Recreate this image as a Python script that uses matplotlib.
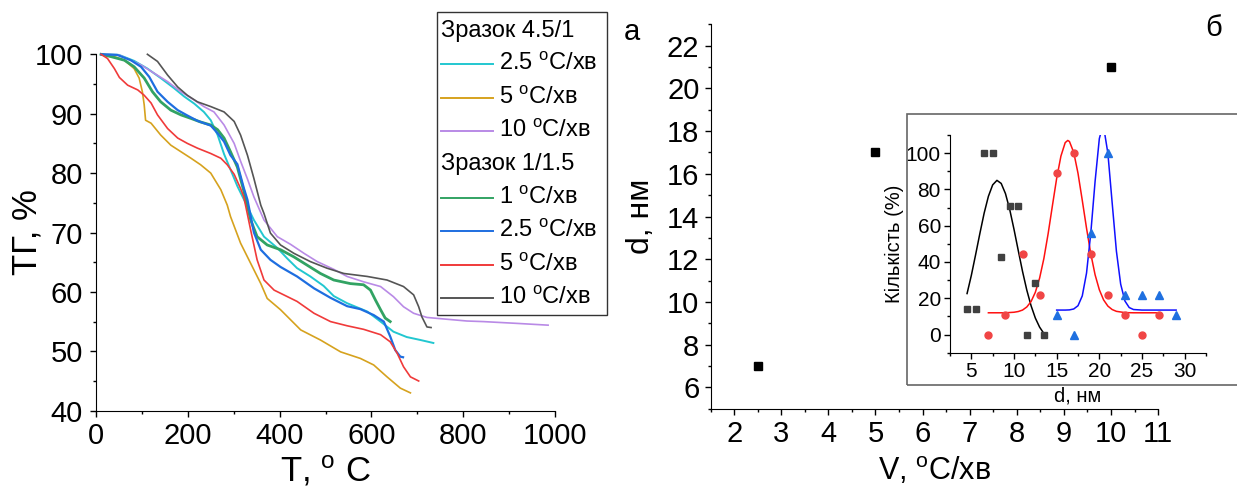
import matplotlib
matplotlib.use("Agg")
import matplotlib.pyplot as plt
from matplotlib.lines import Line2D
from matplotlib.patches import Rectangle
from matplotlib.ticker import MultipleLocator

plt.rcParams['font.family'] = ['Liberation Sans', 'DejaVu Sans']
plt.rcParams['mathtext.fontset'] = 'custom'
plt.rcParams['mathtext.rm'] = 'Liberation Sans'
plt.rcParams['mathtext.it'] = 'Liberation Sans:italic'

# --- TG curves (T, degC ; TG, %) ---
t_cyan = [11, 50, 83, 112, 141, 170, 192, 214, 235, 250, 265, 279, 293, 308, 322, 344, 366, 395, 417, 438, 467, 496, 518, 547, 591, 620, 648, 677, 707, 735]
tg_cyan = [100, 99.9, 98.9, 97.6, 96.0, 94.3, 92.9, 91.7, 90.3, 88.9, 86.4, 83.2, 80.6, 77.8, 75.6, 72.1, 69.3, 67.4, 65.6, 64.0, 62.6, 61.0, 59.3, 58.1, 56.7, 55.0, 53.3, 52.4, 51.9, 51.4]

t_gold = [11, 40, 62, 83, 94, 101, 105, 108, 120, 141, 163, 185, 207, 228, 250, 272, 286, 293, 315, 337, 359, 373, 402, 424, 446, 489, 533, 576, 605, 634, 663, 685]
tg_gold = [100, 99.6, 99.0, 97.6, 96.0, 93.7, 91.5, 88.9, 88.4, 86.4, 84.7, 83.6, 82.5, 81.4, 80.0, 77.2, 74.6, 72.7, 68.2, 64.8, 61.4, 58.9, 57.0, 55.3, 53.6, 51.9, 49.9, 48.8, 47.7, 45.7, 43.8, 43.0]

t_purple = [11, 50, 98, 127, 156, 185, 214, 235, 257, 279, 301, 315, 330, 344, 366, 395, 424, 453, 482, 518, 547, 583, 620, 648, 670, 692, 721, 764, 808, 844, 917, 985]
tg_purple = [100, 99.9, 98.2, 96.8, 95.4, 93.7, 92.3, 91.2, 90.3, 88.1, 85.0, 82.0, 79.0, 76.0, 72.1, 69.3, 68.0, 66.5, 65.1, 63.8, 62.6, 61.7, 60.9, 59.2, 57.5, 56.4, 55.7, 55.4, 55.1, 55.0, 54.7, 54.4]

t_green = [11, 33, 62, 83, 105, 123, 141, 163, 185, 207, 228, 250, 265, 279, 293, 308, 322, 337, 351, 373, 402, 431, 460, 489, 518, 554, 583, 598, 609, 620, 630, 641]
tg_green = [100, 99.6, 99.0, 97.9, 96.0, 93.7, 92.0, 90.6, 89.8, 89.2, 88.6, 88.1, 87.3, 85.9, 83.6, 81.0, 77.0, 72.1, 69.3, 67.9, 67.1, 65.9, 64.5, 63.1, 62.0, 61.4, 61.2, 60.3, 58.6, 57.0, 55.6, 55.0]

t_blue = [11, 46, 76, 98, 116, 134, 156, 178, 199, 221, 250, 265, 279, 293, 308, 322, 330, 344, 359, 380, 402, 438, 475, 511, 547, 576, 605, 627, 641, 652, 663, 669]
tg_blue = [100, 99.9, 99.0, 97.9, 96.2, 93.7, 92.0, 90.6, 89.7, 88.8, 88.0, 86.7, 85.3, 83.0, 81.5, 77.5, 75.5, 70.0, 67.1, 65.4, 64.2, 62.6, 60.6, 59.0, 57.6, 57.1, 56.1, 55.0, 52.5, 50.2, 49.1, 49.0]

t_red = [11, 25, 40, 51, 69, 91, 105, 120, 134, 156, 178, 199, 221, 250, 272, 286, 301, 315, 322, 337, 351, 366, 388, 417, 438, 475, 511, 547, 583, 620, 641, 656, 670, 685, 703]
tg_red = [100, 99.3, 97.6, 96.1, 94.8, 94.0, 93.1, 91.8, 89.8, 87.5, 85.9, 85.0, 84.2, 83.3, 82.5, 81.4, 79.8, 77.4, 76.0, 70.4, 65.4, 62.0, 60.3, 59.2, 58.4, 56.4, 55.0, 54.3, 53.7, 52.8, 51.6, 49.7, 47.4, 45.7, 45.0]

t_black = [112, 134, 156, 178, 199, 221, 250, 279, 301, 315, 330, 344, 359, 366, 380, 402, 431, 467, 503, 540, 591, 634, 670, 692, 703, 710, 721, 730]
tg_black = [100, 98.8, 96.5, 94.5, 93.1, 92.0, 91.2, 90.3, 88.7, 86.4, 83.0, 79.1, 74.6, 73.2, 69.9, 67.9, 66.5, 65.1, 64.0, 63.1, 62.6, 62.0, 60.9, 59.5, 57.5, 55.8, 54.1, 54.0]

# --- particle size vs heating rate ---
rate = [2.5, 5, 10]
size_nm = [7, 17, 21]

# --- inset: size distributions ---
d_sq = [4.5, 5.5, 6.5, 7.5, 8.5, 9.5, 10.5, 11.5, 12.5, 13.5]
n_sq = [14, 14, 100, 100, 43, 71, 71, 0, 28.5, 0]
d_ci = [7, 9, 11, 13, 15, 17, 19, 21, 23, 25, 27]
n_ci = [0, 11, 44.5, 22, 89, 100, 44.5, 22, 11, 0, 11]
d_tr = [15, 17, 19, 21, 23, 25, 27, 29]
n_tr = [11, 0, 56, 100, 22, 22, 22, 11]

fit_bk_x = [4.5, 5, 5.5, 6, 6.5, 7, 7.5, 8, 8.5, 9, 9.5, 10, 10.5, 11, 11.5, 12, 12.5, 13, 13.5]
fit_bk_y = [22.6, 32.6, 44.0, 55.7, 66.9, 76.2, 82.5, 85.0, 83.3, 77.7, 68.9, 58.0, 46.3, 34.8, 24.5, 15.9, 9.1, 4.1, 0.6]
fit_rd_x = [7, 8, 9, 10, 10.5, 11, 11.5, 12, 12.5, 13, 13.5, 14, 14.5, 15, 15.5, 16, 16.3, 16.5, 17, 17.5, 18, 18.5, 19, 19.5, 20, 20.5, 21, 21.5, 22, 23, 24, 25, 26, 27]
fit_rd_y = [12.0, 12.0, 12.0, 12.3, 12.7, 13.5, 15.2, 18.2, 23.3, 31.1, 41.9, 55.6, 71.0, 86.1, 98.4, 105.8, 107.0, 106.4, 100.4, 88.9, 74.0, 58.6, 44.5, 33.0, 24.7, 19.1, 15.7, 13.8, 12.8, 12.1, 12.0, 12.0, 12.0, 12.0]
fit_bl_x = [15, 16, 16.5, 17, 17.5, 18, 18.5, 19, 19.5, 20, 20.4, 20.5, 21, 21.5, 22, 22.5, 23, 23.5, 24, 25, 26, 27, 28, 29]
fit_bl_y = [13.5, 13.5, 13.6, 14.1, 15.9, 21.3, 33.9, 56.0, 84.3, 108.0, 115.0, 114.6, 100.0, 72.8, 46.0, 27.8, 18.5, 14.9, 13.8, 13.5, 13.5, 13.5, 13.5, 13.5]

W, H = 1237, 488
fig = plt.figure(figsize=(W / 100, H / 100), dpi=100)


def fx(px):
    return px / W


def fy(py):
    return 1 - py / H


def style_axes(ax, size, major_len, minor_len, xpad, ypad):
    ax.spines['top'].set_visible(False)
    ax.spines['right'].set_visible(False)
    ax.tick_params(which='major', direction='out', length=major_len, width=1, labelsize=size)
    ax.tick_params(which='minor', direction='out', length=minor_len, width=1)
    ax.tick_params(axis='x', which='major', pad=xpad)
    ax.tick_params(axis='y', which='major', pad=ypad)


# left panel
ax1 = fig.add_axes([fx(96), fy(410.7), 459 / W, 356.4 / H])
curves = [
    (t_cyan, tg_cyan, '#22c7d0', 1.4),
    (t_gold, tg_gold, '#d6a21e', 1.2),
    (t_purple, tg_purple, '#b98ae6', 1.2),
    (t_green, tg_green, '#32a363', 2.0),
    (t_blue, tg_blue, '#1e6ee0', 1.6),
    (t_red, tg_red, '#f03a3a', 1.2),
    (t_black, tg_black, '#555555', 1.2),
]
for t, tg, c, lw in curves:
    ax1.plot(t, tg, color=c, lw=lw, clip_on=False)
ax1.set_xlim(0, 1000)
ax1.set_ylim(40, 100)
ax1.xaxis.set_major_locator(MultipleLocator(200))
ax1.xaxis.set_minor_locator(MultipleLocator(100))
ax1.yaxis.set_major_locator(MultipleLocator(10))
ax1.yaxis.set_minor_locator(MultipleLocator(5))
style_axes(ax1, 21, 4.5, 2.5, 3.5, 5)
ax1.set_xlabel(r'T, $^{\rm o}$ C', fontsize=25, va='top')
ax1.xaxis.set_label_coords(0.5, -0.12)
ax1.set_ylabel('ТГ, %', fontsize=25)
ax1.yaxis.set_label_coords(-0.115, 0.5)

# legend drawn by hand
fig.add_artist(Rectangle((fx(436.7), fy(315)), (606.7 - 436.7) / W, (315 - 11.7) / H,
                         transform=fig.transFigure, fill=False, edgecolor='#333333', lw=1.0))
rows = [
    ('Зразок 4.5/1', None),
    (r'2.5 $^{\rm o}$C/хв', '#22c7d0'),
    (r'5 $^{\rm o}$C/хв', '#d6a21e'),
    (r'10 $^{\rm o}$C/хв', '#b98ae6'),
    ('Зразок 1/1.5', None),
    (r'1 $^{\rm o}$C/хв', '#32a363'),
    (r'2.5 $^{\rm o}$C/хв', '#1e6ee0'),
    (r'5 $^{\rm o}$C/хв', '#f03a3a'),
    (r'10 $^{\rm o}$C/хв', '#555555'),
]
for i, (label, c) in enumerate(rows):
    yc = 30.7 + i * 33.4
    if c is None:
        fig.text(fx(440.7), fy(yc), label, fontsize=17, ha='left', va='center')
    else:
        fig.add_artist(Line2D([fx(440.7), fx(492.7)], [fy(yc), fy(yc)], color=c, lw=1.4,
                              transform=fig.transFigure))
        fig.text(fx(499), fy(yc), label, fontsize=17, ha='left', va='center')

# right panel
ax2 = fig.add_axes([fx(710.6), fy(408.7), 447.5 / W, 384.4 / H])
ax2.plot(rate, size_nm, 's', color='black', ms=6)
ax2.set_xlim(1.5, 11)
ax2.set_ylim(5, 23)
ax2.xaxis.set_major_locator(MultipleLocator(1))
ax2.xaxis.set_minor_locator(MultipleLocator(0.5))
ax2.yaxis.set_major_locator(MultipleLocator(2))
ax2.yaxis.set_minor_locator(MultipleLocator(1))
style_axes(ax2, 21, 4.5, 2.5, 3.5, 3.5)
ax2.set_xlabel(r'V, $^{\rm o}$C/хв', fontsize=22, va='top')
ax2.xaxis.set_label_coords(0.5, -0.12)
ax2.set_ylabel('d, нм', fontsize=23)
ax2.yaxis.set_label_coords(-0.122, 0.5)

fig.text(fx(632), fy(32), 'а', fontsize=21, ha='center', va='center')
fig.text(fx(1214), fy(28), 'б', fontsize=21, ha='center', va='center')

# inset frame and axes
fig.add_artist(Rectangle((fx(907), fy(385)), 400 / W, (385 - 113.5) / H,
                         transform=fig.transFigure, fill=False, edgecolor='#666666', lw=1.2))
ax3 = fig.add_axes([fx(950), fy(352.7), 256 / W, 217.7 / H])
ax3.plot(fit_bk_x, fit_bk_y, color='black', lw=1.1)
ax3.plot(fit_rd_x, fit_rd_y, color='#ff1010', lw=1.1)
ax3.plot(fit_bl_x, fit_bl_y, color='#1010ff', lw=1.1)
ax3.plot(d_sq, n_sq, 's', color='#404040', ms=4.5, clip_on=False)
ax3.plot(d_ci, n_ci, 'o', color='#f04545', ms=5, clip_on=False)
ax3.plot(d_tr, n_tr, '^', color='#1f70e0', ms=5.5, clip_on=False)
ax3.set_xlim(2.5, 32.5)
ax3.set_ylim(-10, 110)
ax3.xaxis.set_major_locator(MultipleLocator(5))
ax3.xaxis.set_minor_locator(MultipleLocator(2.5))
ax3.yaxis.set_major_locator(MultipleLocator(20))
ax3.yaxis.set_minor_locator(MultipleLocator(10))
style_axes(ax3, 15, 4, 2, 3, 2.5)
ax3.set_xlabel('d, нм', fontsize=14.5, va='top')
ax3.xaxis.set_label_coords(0.5, -0.155)
ax3.set_ylabel('Кількість (%)', fontsize=14.5)
ax3.yaxis.set_label_coords(-0.18, 0.5)

fig.savefig('out.png', dpi=100)
